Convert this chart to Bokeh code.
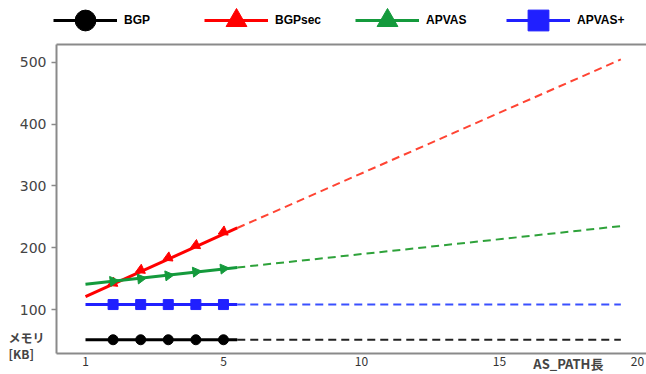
from bokeh.plotting import figure
from bokeh.models import (Range1d, LinearAxis, FixedTicker, Legend, LegendItem,
                          Label)
from bokeh.embed import file_html
from bokeh.resources import INLINE
import math

# ---- data ----
hops = [1, 2, 3, 4, 5]
bgp = [51, 51, 51, 51, 51]
bgpsec = [143, 164, 184, 204, 226]
apvas = [146, 150, 155, 161, 166]
apvas_plus = [108, 108, 108, 108, 108]

# measured span (solid) and extrapolation (dashed)
solid_x = [0, 5.5]
dash_x = [5.5, 19.4]
bgp_solid, bgp_dash = [51, 51], [51, 51]
bgpsec_solid, bgpsec_dash = [121, 232], [232, 505]
apvas_solid, apvas_dash = [141, 168], [168, 235]
apvasp_solid, apvasp_dash = [108, 108], [108, 108]

x_ticks = [0, 5, 10, 15, 20]
x_tick_labels = {0: "1", 5: "5", 10: "10", 15: "15", 20: "20"}
y_ticks = [100, 200, 300, 400, 500]

names = ["BGP", "BGPsec", "APVAS", "APVAS+"]

# plot area limits (data units)
X0, X1 = -1.05, 20.4
Y0, Y1 = 28.7, 529.1

p = figure(width=646, height=374, output_backend="svg", toolbar_location=None,
           x_range=Range1d(-3.08, 20.33), y_range=Range1d(-5.26, 600.4),
           min_border_left=0, min_border_right=0, min_border_top=0,
           min_border_bottom=0)
p.title.visible = False
p.outline_line_color = None
p.grid.visible = False
p.background_fill_color = "white"

axis_col = "#8a8a8a"

# axes (fixed inside the canvas so that the texts around them are not clipped)
p.yaxis.fixed_location = X0
p.yaxis.bounds = (Y0, Y1)
p.yaxis.ticker = FixedTicker(ticks=y_ticks)
p.yaxis.major_label_text_font = "DejaVu Sans"
p.yaxis.major_label_text_font_size = "14px"
p.yaxis.major_label_text_color = "#444444"
p.yaxis.major_tick_out = 5
p.yaxis.major_tick_in = 0
p.yaxis.minor_tick_out = 0
p.yaxis.minor_tick_in = 0
p.yaxis.major_label_standoff = 5
p.yaxis.axis_line_color = axis_col
p.yaxis.axis_line_width = 2
p.yaxis.major_tick_line_color = axis_col
p.yaxis.major_tick_line_width = 1.5

p.xaxis.fixed_location = Y0
p.xaxis.bounds = (X0, X1)
p.xaxis.ticker = FixedTicker(ticks=x_ticks)
p.xaxis.major_label_overrides = x_tick_labels
p.xaxis.major_label_text_font = "Noto Sans CJK JP"
p.xaxis.major_label_text_font_size = "12px"
p.xaxis.major_label_text_color = "#333333"
p.xaxis.major_tick_out = 0
p.xaxis.major_tick_in = 0
p.xaxis.minor_tick_out = 0
p.xaxis.minor_tick_in = 0
p.xaxis.major_label_standoff = 3
p.xaxis.axis_line_color = axis_col
p.xaxis.axis_line_width = 2

top_axis = LinearAxis(ticker=FixedTicker(ticks=[]), axis_line_color=axis_col,
                      axis_line_width=2, major_tick_out=0, minor_tick_out=0,
                      major_tick_in=0, minor_tick_in=0,
                      major_label_text_font_size="0px",
                      fixed_location=Y1, bounds=(X0, X1))
p.add_layout(top_axis, "above")

# series
colors_solid = ["#000000", "#ff0000", "#149a3c", "#2020ff"]
colors_dash = ["#222222", "#ff4433", "#2ea23a", "#3a50ff"]
markers = ["circle", "triangle", "triangle", "square"]
angles = [0, math.pi / 2 + 0.42, -math.pi / 2 + 0.12, 0]
solids = [bgp_solid, bgpsec_solid, apvas_solid, apvasp_solid]
dashes = [bgp_dash, bgpsec_dash, apvas_dash, apvasp_dash]
points = [bgp, bgpsec, apvas, apvas_plus]
sizes = [10, 10, 10, 10]

items = []
for i in range(4):
    p.line(dash_x, dashes[i], line_color=colors_dash[i], line_width=2,
           line_dash="8 5")
    ln = p.line(solid_x, solids[i], line_color=colors_solid[i], line_width=3)
    sc = p.scatter(hops, points[i], marker=markers[i], size=sizes[i],
                   angle=angles[i], fill_color=colors_solid[i],
                   line_color=colors_solid[i])
    items.append(LegendItem(label=names[i], renderers=[ln, sc]))

legend = Legend(items=items, orientation="horizontal", location=(53, 328),
                glyph_width=64, glyph_height=52, label_standoff=7,
                label_width=80, spacing=0, padding=0, margin=0,
                border_line_color=None, background_fill_alpha=0,
                label_text_font="Liberation Sans", label_text_font_style="bold",
                label_text_font_size="12px", label_text_color="#000000")
p.add_layout(legend, "center")

# axis titles
lab_font = "Noto Sans CJK JP"
p.add_layout(Label(x=-2.79, y=54.7, text="メモリ",
                   text_font=lab_font, text_font_style="bold",
                   text_font_size="12px", text_baseline="middle",
                   text_align="left"))
p.add_layout(Label(x=-2.79, y=28.7, text="[KB]",
                   text_font=lab_font, text_font_style="bold",
                   text_font_size="12px", text_baseline="middle",
                   text_align="left"))
p.add_layout(Label(x=16.23, y=27.5, text="AS_PATH長", text_font=lab_font,
                   text_font_style="bold", text_font_size="13px",
                   text_baseline="top", text_align="left"))

open("out.html", "w").write(file_html(p, INLINE))
